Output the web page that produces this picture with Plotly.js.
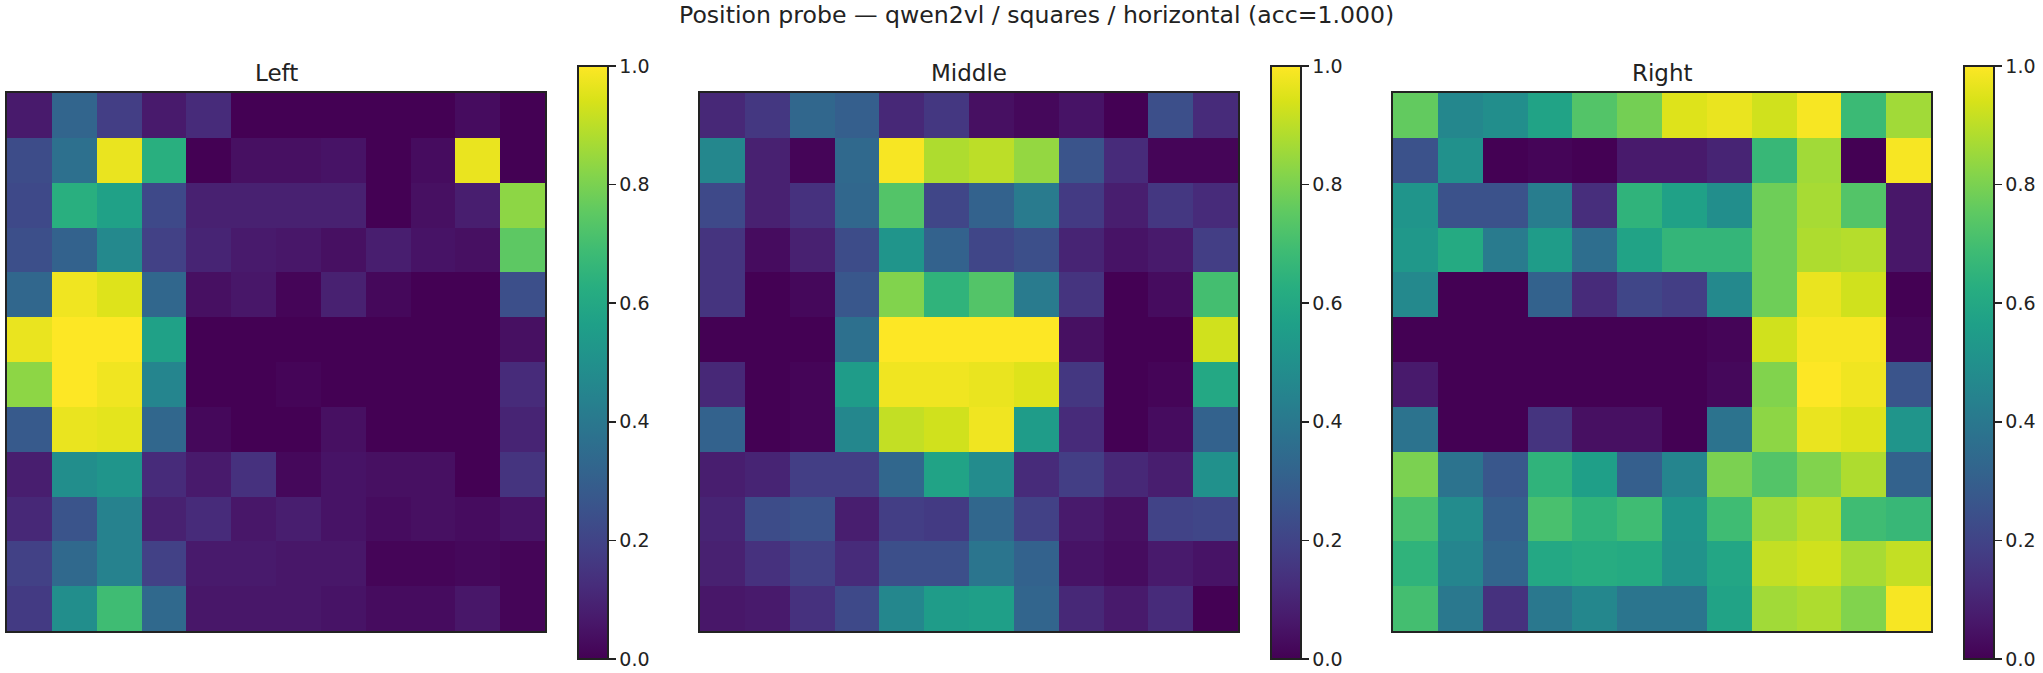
<!DOCTYPE html>
<html>
<head>
<meta charset="utf-8">
<script src="https://cdn.plot.ly/plotly-3.0.1.min.js"></script>
<style>
  html, body { margin: 0; padding: 0; background: #fff; }
  #plotDiv { width: 2043px; height: 673px; }
</style>
</head>
<body>
<div id="plotDiv"></div>
<script>
// probe accuracy grids, rows top to bottom
const panelNames = ['Left', 'Middle', 'Right']

const zLeft = [
	[0.07, 0.32, 0.18, 0.07, 0.12, 0.00, 0.00, 0.00, 0.00, 0.00, 0.03, 0.00],
	[0.23, 0.37, 0.97, 0.63, 0.00, 0.04, 0.04, 0.05, 0.00, 0.03, 0.97, 0.00],
	[0.22, 0.63, 0.57, 0.22, 0.09, 0.09, 0.09, 0.09, 0.00, 0.04, 0.08, 0.83],
	[0.24, 0.31, 0.47, 0.19, 0.10, 0.07, 0.06, 0.04, 0.08, 0.05, 0.04, 0.75],
	[0.33, 0.98, 0.95, 0.33, 0.04, 0.06, 0.01, 0.09, 0.02, 0.00, 0.00, 0.24],
	[0.97, 1.00, 1.00, 0.57, 0.00, 0.00, 0.00, 0.00, 0.00, 0.00, 0.00, 0.04],
	[0.83, 1.00, 0.98, 0.45, 0.00, 0.00, 0.01, 0.00, 0.00, 0.00, 0.00, 0.12],
	[0.28, 0.97, 0.96, 0.33, 0.02, 0.00, 0.00, 0.04, 0.00, 0.00, 0.00, 0.10],
	[0.08, 0.49, 0.52, 0.12, 0.07, 0.14, 0.02, 0.05, 0.04, 0.04, 0.00, 0.15],
	[0.11, 0.26, 0.44, 0.09, 0.12, 0.06, 0.08, 0.05, 0.03, 0.04, 0.03, 0.05],
	[0.19, 0.34, 0.44, 0.19, 0.07, 0.07, 0.06, 0.06, 0.01, 0.01, 0.02, 0.01],
	[0.17, 0.49, 0.69, 0.34, 0.06, 0.06, 0.06, 0.05, 0.03, 0.03, 0.06, 0.01]
]

const zMiddle = [
	[0.11, 0.16, 0.33, 0.30, 0.11, 0.16, 0.04, 0.02, 0.05, 0.00, 0.24, 0.12],
	[0.46, 0.09, 0.01, 0.34, 0.99, 0.88, 0.90, 0.84, 0.26, 0.12, 0.01, 0.01],
	[0.22, 0.09, 0.14, 0.33, 0.73, 0.21, 0.31, 0.41, 0.17, 0.08, 0.16, 0.12],
	[0.15, 0.03, 0.09, 0.23, 0.52, 0.31, 0.21, 0.24, 0.10, 0.05, 0.07, 0.18],
	[0.15, 0.00, 0.02, 0.27, 0.81, 0.65, 0.73, 0.41, 0.15, 0.00, 0.03, 0.70],
	[0.00, 0.00, 0.00, 0.37, 1.00, 1.00, 1.00, 1.00, 0.04, 0.00, 0.00, 0.93],
	[0.11, 0.00, 0.01, 0.55, 0.98, 0.98, 0.97, 0.95, 0.16, 0.00, 0.01, 0.60],
	[0.31, 0.00, 0.01, 0.46, 0.91, 0.93, 0.98, 0.55, 0.12, 0.00, 0.03, 0.31],
	[0.08, 0.10, 0.18, 0.18, 0.33, 0.58, 0.48, 0.12, 0.18, 0.11, 0.08, 0.50],
	[0.10, 0.23, 0.25, 0.08, 0.18, 0.17, 0.33, 0.19, 0.07, 0.04, 0.20, 0.21],
	[0.09, 0.14, 0.19, 0.12, 0.24, 0.24, 0.39, 0.31, 0.05, 0.03, 0.07, 0.05],
	[0.06, 0.07, 0.14, 0.22, 0.46, 0.55, 0.56, 0.32, 0.11, 0.07, 0.12, 0.00]
]

const zRight = [
	[0.76, 0.46, 0.49, 0.58, 0.73, 0.79, 0.95, 0.97, 0.93, 0.99, 0.68, 0.86],
	[0.25, 0.50, 0.00, 0.01, 0.00, 0.07, 0.07, 0.10, 0.67, 0.86, 0.00, 0.99],
	[0.52, 0.25, 0.25, 0.42, 0.13, 0.65, 0.57, 0.49, 0.78, 0.87, 0.73, 0.06],
	[0.53, 0.61, 0.41, 0.55, 0.36, 0.58, 0.66, 0.66, 0.78, 0.88, 0.89, 0.06],
	[0.47, 0.00, 0.00, 0.31, 0.12, 0.21, 0.18, 0.47, 0.78, 0.97, 0.93, 0.00],
	[0.00, 0.00, 0.00, 0.00, 0.00, 0.00, 0.00, 0.01, 0.93, 0.99, 0.99, 0.01],
	[0.07, 0.00, 0.00, 0.00, 0.00, 0.00, 0.00, 0.02, 0.81, 1.00, 0.98, 0.26],
	[0.38, 0.00, 0.00, 0.15, 0.04, 0.04, 0.00, 0.38, 0.83, 0.97, 0.95, 0.52],
	[0.80, 0.38, 0.27, 0.65, 0.56, 0.30, 0.45, 0.80, 0.73, 0.81, 0.88, 0.31],
	[0.71, 0.48, 0.30, 0.71, 0.65, 0.69, 0.52, 0.69, 0.86, 0.90, 0.69, 0.67],
	[0.65, 0.45, 0.32, 0.60, 0.62, 0.61, 0.51, 0.59, 0.91, 0.93, 0.87, 0.91],
	[0.70, 0.40, 0.14, 0.40, 0.46, 0.39, 0.39, 0.58, 0.86, 0.88, 0.81, 0.99]
]

const cbTickVals = [0, 0.2, 0.4, 0.6, 0.8, 1.0]
const cbTickText = ['0.0', '0.2', '0.4', '0.6', '0.8', '1.0']

const W = 2043, H = 673
const font = 'DejaVu Sans, Liberation Sans, sans-serif'
const ink = '#222'

// pixel geometry of the panels (left edge of each heatmap)
const panelLeft = [7, 700, 1393]
const side = 538
const panelTop = 93
const cbOffset = 571   // colorbar left edge relative to heatmap left
const cbTop = 66, cbBottom = 659

const zs = [zLeft, zMiddle, zRight]
const data = []
const layout = {
	width: W,
	height: H,
	margin: {l: 0, r: 0, t: 0, b: 0},
	paper_bgcolor: '#fff',
	plot_bgcolor: '#fff',
	font: {family: font, color: ink},
	showlegend: false,
	annotations: [{
		text: 'Position probe — qwen2vl / squares / horizontal (acc=1.000)',
		x: 1036 / W, y: (H - 31) / H,
		xref: 'paper', yref: 'paper',
		xanchor: 'center', yanchor: 'bottom',
		showarrow: false,
		font: {family: font, size: 23.6, color: ink}
	}]
}

zs.forEach((z, i) => {
	const n = i + 1
	const xa = 'xaxis' + (i ? n : '')
	const ya = 'yaxis' + (i ? n : '')
	const x0 = panelLeft[i]
	data.push({
		type: 'heatmap',
		z: z,
		xaxis: 'x' + (i ? n : ''),
		yaxis: 'y' + (i ? n : ''),
		colorscale: 'Viridis',
		zmin: 0,
		zmax: 1,
		hoverinfo: 'z',
		colorbar: {
			x: (x0 + cbOffset) / W,
			xanchor: 'left',
			y: (H - (cbTop + cbBottom) / 2) / H,
			yanchor: 'middle',
			len: (cbBottom - cbTop) / H,
			lenmode: 'fraction',
			thickness: 30,
			thicknessmode: 'pixels',
			xpad: 0,
			ypad: 0,
			outlinewidth: 2,
			outlinecolor: ink,
			ticks: 'outside',
			ticklen: 7,
			tickwidth: 1.5,
			tickcolor: ink,
			tickvals: cbTickVals,
			ticktext: cbTickText,
			tickfont: {family: font, size: 19, color: ink}
		}
	})
	layout[xa] = {
		domain: [x0 / W, (x0 + side) / W],
		anchor: 'y' + (i ? n : ''),
		showticklabels: false,
		ticks: '',
		showgrid: false,
		zeroline: false,
		showline: true,
		mirror: true,
		linewidth: 2,
		linecolor: ink,
		fixedrange: true
	}
	layout[ya] = {
		domain: [(H - panelTop - side) / H, (H - panelTop) / H],
		anchor: 'x' + (i ? n : ''),
		autorange: 'reversed',
		showticklabels: false,
		ticks: '',
		showgrid: false,
		zeroline: false,
		showline: true,
		mirror: true,
		linewidth: 2,
		linecolor: ink,
		fixedrange: true
	}
	layout.annotations.push({
		text: panelNames[i],
		x: (x0 + side / 2) / W,
		y: (H - 88) / H,
		xref: 'paper', yref: 'paper',
		xanchor: 'center', yanchor: 'bottom',
		showarrow: false,
		font: {family: font, size: 23, color: ink}
	})
})

Plotly.newPlot('plotDiv', data, layout, {displayModeBar: false, staticPlot: true})
</script>
</body>
</html>
